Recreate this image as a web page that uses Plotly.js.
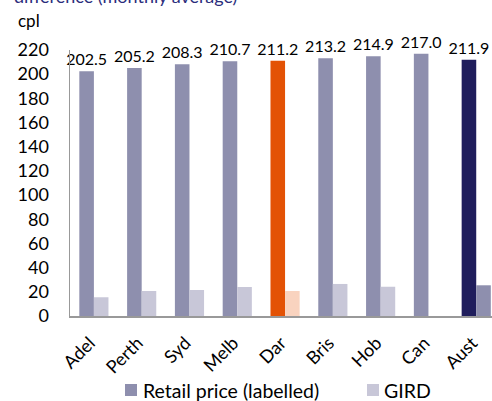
<!DOCTYPE html>
<html>
<head>
<meta charset="utf-8">
<script src="https://cdn.plot.ly/plotly-3.0.1.min.js"></script>
<style>html,body{margin:0;padding:0;background:#fff;overflow:hidden}#chart{width:492px;height:401px}</style>
</head>
<body>
<div id="chart"></div>
<script>
const categories = ["Adel", "Perth", "Syd", "Melb", "Dar", "Bris", "Hob", "Can", "Aust"];
const retailPrice = [202.5, 205.2, 208.3, 210.7, 211.2, 213.2, 214.9, 217.0, 211.9];
const gird = [15.5, 20.7, 21.5, 24.0, 20.7, 26.5, 24.2, null, 25.4];
const retailLabels = ["202.5", "205.2", "208.3", "210.7", "211.2", "213.2", "214.9", "217.0", "211.9"];
const seriesNames = ["Retail price (labelled)", "GIRD"];
const seriesColors = ["#8e8fae", "#c8c7d8"];

const retailColors = categories.map(c => c === "Dar" ? "#e35205" : (c === "Aust" ? "#1f1d5c" : seriesColors[0]));
const girdColors = categories.map(c => c === "Dar" ? "#f9d3bf" : (c === "Aust" ? seriesColors[0] : seriesColors[1]));

const font = "Lato, 'Open Sans', sans-serif";

// plot area in pixels (margins)
const M = {l: 70, r: 0, t: 50, b: 85};
const W = 492, H = 401;
const pw = W - M.l - M.r, ph = H - M.t - M.b;
const px = x => (x - M.l) / pw;
const py = y => (H - M.b - y) / ph;

const data = [
  {
    type: "bar", name: seriesNames[0], x: categories, y: retailPrice,
    marker: {color: retailColors, line: {width: 0}},
    text: retailLabels, textposition: "outside", cliponaxis: false, constraintext: "none",
    textfont: {family: font, size: 16, color: "#000"},
    hoverinfo: "x+y"
  },
  {
    type: "bar", name: seriesNames[1], x: categories, y: gird,
    marker: {color: girdColors, line: {width: 0}},
    hoverinfo: "x+y"
  }
];

// legend drawn as swatches + text
const legendItems = [
  {sx: 125, tx: 141, i: 0},
  {sx: 367, tx: 382, i: 1}
];
const shapes = legendItems.map(it => ({
  type: "rect", xref: "paper", yref: "paper",
  x0: px(it.sx), x1: px(it.sx + 12), y0: py(396), y1: py(384),
  fillcolor: seriesColors[it.i], line: {width: 0}
}));
const legendTexts = legendItems.map(it => ({
  text: seriesNames[it.i], xref: "paper", yref: "paper", x: px(it.tx), y: py(390),
  xanchor: "left", yanchor: "middle", showarrow: false,
  font: {family: font, size: 19.5, color: "#000"}
}));

const layout = {
  width: W, height: H,
  margin: Object.assign({autoexpand: false}, M),
  paper_bgcolor: "#fff", plot_bgcolor: "#fff",
  font: {family: font, color: "#000"},
  barmode: "group", bargap: 0.39, bargroupgap: 0,
  showlegend: false,
  xaxis: {
    range: [-0.5, 8.33], tickangle: -45, showgrid: false, zeroline: false,
    showline: true, linecolor: "#999", linewidth: 1.5, ticks: "",
    ticklabelstandoff: 8, ticklabelshift: -4,
    tickfont: {family: font, size: 18, color: "#000"}
  },
  yaxis: {
    range: [0, 220], dtick: 20, showgrid: false, zeroline: false,
    showline: true, linecolor: "#999", linewidth: 1.5, ticks: "",
    ticklabelstandoff: 16,
    tickfont: {family: font, size: 18, color: "#000"}
  },
  shapes: shapes,
  annotations: [
    {text: "difference (monthly average)", xref: "paper", yref: "paper", x: px(12), y: py(9),
     xanchor: "left", yanchor: "bottom", showarrow: false,
     font: {family: font, size: 18, color: "#2b2d7c"}},
    {text: "cpl", xref: "paper", yref: "paper", x: px(16), y: py(21),
     xanchor: "left", yanchor: "middle", showarrow: false,
     font: {family: font, size: 17, color: "#000"}}
  ].concat(legendTexts)
};

Plotly.newPlot("chart", data, layout, {displayModeBar: false, staticPlot: true});
</script>
</body>
</html>
